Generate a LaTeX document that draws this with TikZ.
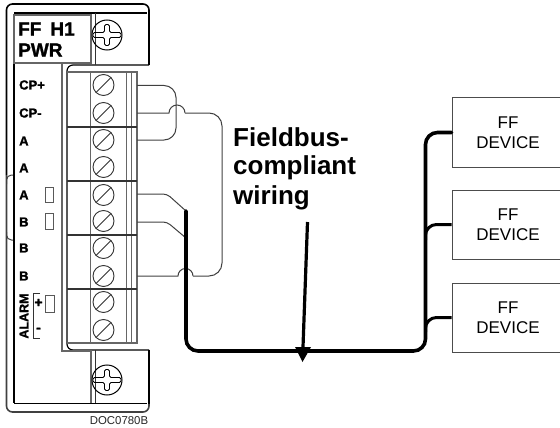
\documentclass[tikz,border=0pt]{standalone}
\usepackage{fontspec}
\setmainfont{Liberation Sans}
\newfontfamily\heavyf[FakeBold=1.4]{Liberation Sans Bold}
\begin{document}
\begin{tikzpicture}[x=1pt,y=-1pt,
  thinline/.style={line width=1pt,draw=black!80},
  grayline/.style={line width=1.1pt,draw=black!60},
  heavyline/.style={line width=1.6pt,draw=black},
  wire/.style={line width=1pt,draw=black!75},
  bus/.style={line width=3.6pt,draw=black,line cap=round},
  branch/.style={line width=3pt,draw=black},
  termscrew/.style={circle,draw=black!80,line width=.9pt,minimum size=21pt,inner sep=0pt},
  panelscrew/.style={circle,draw=black,line width=1pt,minimum size=30pt,inner sep=0pt},
  led/.style={draw=black!65,line width=.9pt},
  device/.style={draw=black!70,line width=1pt,fill=white,minimum width=112pt,minimum height=69pt,inner sep=0pt,align=center,font=\fontsize{17}{20}\selectfont},
  lab/.style={anchor=west,inner sep=0pt,font=\fontsize{13}{13}\selectfont\heavyf},
  title/.style={anchor=west,inner sep=0pt,font=\fontsize{19}{19}\selectfont\heavyf},
  fb/.style={anchor=west,inner sep=0pt,font=\fontsize{26}{30}\selectfont\bfseries}]
\useasboundingbox (0,0) rectangle (560,428);
% module outline
\draw[heavyline,rounded corners=6] (6.5,175) -- (6.5,4) -- (149,4) -- (149,65);
\draw[heavyline,line width=1.2pt,rounded corners=6] (149,65) -- (67,65) -- (67,350) -- (149,350);
\draw[heavyline] (149,350) -- (149,404);
\draw[heavyline,rounded corners=6,draw=black!75] (6.5,175) -- (6.5,412) -- (149,412) -- (149,404);
\draw[wire,rounded corners=5] (6.5,184) -- (6.5,175) -- (13,175);
\draw[wire,rounded corners=5] (6.5,232) -- (6.5,240) -- (13,240);
% inner panel
\draw[heavyline,line width=1.2pt] (14,14) -- (14,403);
\draw[heavyline,line width=1.4pt] (14,13) -- (147,13);
\draw[heavyline,line width=1.4pt] (14,403.5) -- (147,403.5);
\draw[grayline] (14,15) rectangle (91,63);
\draw[thinline] (95,13) -- (95,65);
\draw[thinline] (95,350) -- (95,403);
\draw[grayline] (62,63) -- (62,351) -- (91,351) -- (91,403);
% panel screws
\foreach \n/\yy in {ps1/35,ps2/380}{
  \node[panelscrew] (\n) at (107,\yy) {};
  \draw[line width=.9pt,rounded corners=1.5] ([xshift=-14pt]\n.center) ++(0,-2.5) -- ++(11.5,0) -- ++(0,-8) -- ++(5,0) -- ++(0,8) -- ++(11.5,0) -- ++(0,5) -- ++(-11.5,0) -- ++(0,8) -- ++(-5,0) -- ++(0,-8) -- ++(-11.5,0) -- cycle;
}
% terminal block
\draw[grayline] (67,72) -- (137,72) -- (137,343) -- (67,343);
\foreach \xx in {90,126,131}{\draw[grayline,line width=.9pt] (\xx,72) -- (\xx,343);}
\foreach \yy in {127,181,235,289}{\draw[heavyline,line width=1.1pt,draw=black!80] (67,\yy) -- (137,\yy);}
\foreach \n/\yy in {t1/85,t2/113,t3/140,t4/167,t5/195,t6/221,t7/248,t8/276,t9/302,t10/330}{
  \node[termscrew] (\n) at (103.5,\yy) {};
  \draw[thinline,line width=.9pt] (\n.225) -- (\n.45);
}
% terminal pins
\foreach \n/\yy in {p1/85.5,p2/113,p3/140,p5/194,p6/222,p8/276}{\coordinate (\n) at (137,\yy);}
% thin wires
\coordinate (h1a) at (169,113);
\coordinate (h1b) at (185,113);
\coordinate (h2a) at (193,276);
\coordinate (h2b) at (178,276);
\draw[wire,rounded corners=12] (p1) -- (176,85.5) -- (176,140) -- (p3);
\draw[wire] (p2) -- (h1a) arc[start angle=180,end angle=360,radius=8];
\draw[wire,rounded corners=13] (h1b) -- (222,113) -- (222,276) -- (h2a);
\draw[wire] (h2a) arc[start angle=0,end angle=-180,radius=7.5] -- (p8);
\coordinate (j1) at (186,211);
\coordinate (j2) at (186,238);
\draw[wire,rounded corners=4] (p5) -- (167,194) -- (j1);
\draw[wire,rounded corners=4] (p6) -- (167,222) -- (j2);
% devices
\node[device] (dev1) at (508,132.5) {FF\\DEVICE};
\node[device] (dev2) at (508,224.5) {FF\\DEVICE};
\node[device] (dev3) at (508,317.5) {FF\\DEVICE};
% bus
\draw[bus,rounded corners=12] (j1) -- (186,351) -- (425.5,351) -- (425.5,132.5) -- (dev1.west);
\draw[branch,rounded corners=11] (425.5,240) -- (425.5,224.5) -- (dev2.west);
\draw[branch,rounded corners=11] (425.5,332) -- (425.5,317.5) -- (dev3.west);
% arrow
\coordinate (a1) at (307.5,222);
\coordinate (a2) at (303,347);
\draw[line width=3.2pt] (a1) -- (a2);
\fill (295,347) -- (311,347) -- (302.5,362) -- cycle;
% labels
\node[title] (tl1) at (18,29) {FF\hspace{9pt}H1};
\node[title] (tl2) at (18,50) {PWR};
\node[lab] (l1) at (19,85) {CP+};
\node[lab] (l2) at (19,113) {CP-};
\node[lab] (l3) at (19,141) {A};
\node[lab] (l4) at (19,168) {A};
\node[lab] (l5) at (19,195) {A};
\node[lab] (l6) at (19,222) {B};
\node[lab] (l7) at (19,248) {B};
\node[lab] (l8) at (19,276) {B};
\node[inner sep=0pt,rotate=90,font=\fontsize{12.5}{12.5}\selectfont\heavyf] (alarm) at (24,316) {ALARM};
\draw[thinline,line width=.9pt] (40,293) -- (33,293) -- (33,338) -- (40,338);
\node[inner sep=0pt,font=\fontsize{14}{14}\selectfont\heavyf] (plus) at (38.5,303) {+};
\node[inner sep=0pt,font=\fontsize{14}{14}\selectfont\heavyf] (minus) at (38.5,330) {-};
\draw[led] (45,187) rectangle (53,202);
\draw[led] (45,213) rectangle (53,229);
\draw[led] (45,295) rectangle (54,312);
\node[fb] (f1) at (233,137) {Fieldbus-};
\node[fb] (f2) at (233,168) {compliant};
\node[fb] (f3) at (233,198) {wiring};
\node[inner sep=0pt,font=\fontsize{11.4}{12}\selectfont,text=black!85] (doc) at (119,421) {DOC0780B};
\end{tikzpicture}
\end{document}
